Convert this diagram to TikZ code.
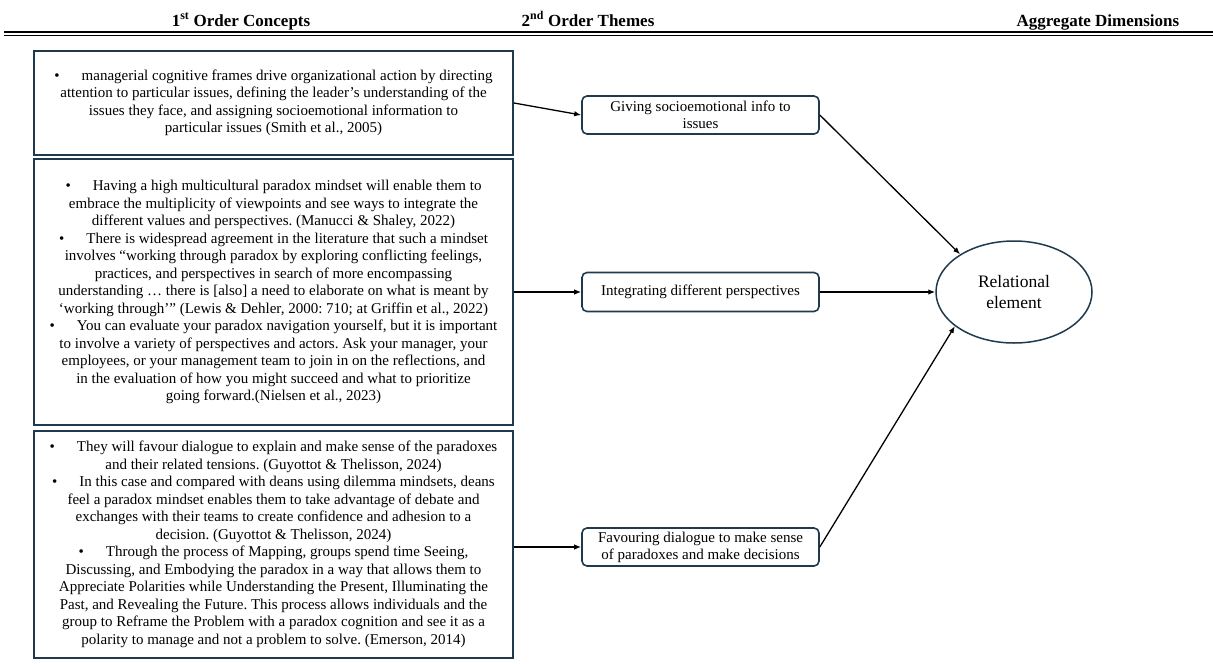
\documentclass[tikz,border=0pt]{standalone}
\usepackage{fontspec}
\setmainfont{Liberation Serif}
\usetikzlibrary{arrows.meta,shapes.geometric}
\definecolor{boxline}{HTML}{1F3A4D}
\newcommand{\bul}{\textbullet\hspace{22pt}}
\frenchspacing

\begin{document}
\begin{tikzpicture}[x=1pt, y=-1pt,
  head/.style={anchor=base, font=\fontsize{17}{19}\selectfont\bfseries},
  concept/.style={draw=boxline, line width=2pt, anchor=north west, minimum width=479pt, inner sep=0pt, align=center, font=\fontsize{15}{17.5}\selectfont},
  theme/.style={draw=boxline, line width=1.6pt, rounded corners=5pt, minimum width=237pt, minimum height=38pt, inner sep=2pt, align=center, font=\fontsize{15}{17}\selectfont},
  link/.style={-{Latex[length=7pt,width=5.5pt]}, line width=1.3pt}]
\useasboundingbox (0,0) rectangle (1213,664);
% heads
\node[head] (head1) at (241,26) {1\textsuperscript{st} Order Concepts};
\node[head] (head2) at (588,26) {2\textsuperscript{nd} Order Themes};
\node[head] (head3) at (1098,26) {Aggregate Dimensions};
\draw[line width=1.6pt] (4,32) -- (1213,32);
\draw[line width=0.6pt] (4,35.2) -- (1213,35.2);
% 1st order concepts
\node[concept, minimum height=104pt] (con1) at (33,50) {\bul managerial cognitive frames drive organizational action by directing\\
attention to particular issues, defining the leader’s understanding of the\\
issues they face, and assigning socioemotional information to\\
particular issues (Smith et al., 2005)};
\node[concept, minimum height=266pt] (con2) at (33,158) {\bul Having a high multicultural paradox mindset will enable them to\\
embrace the multiplicity of viewpoints and see ways to integrate the\\
different values and perspectives. (Manucci \& Shaley, 2022)\\
\bul There is widespread agreement in the literature that such a mindset\\
involves “working through paradox by exploring conflicting feelings,\\
practices, and perspectives in search of more encompassing\\
understanding … there is [also] a need to elaborate on what is meant by\\
‘working through’” (Lewis \& Dehler, 2000: 710; at Griffin et al., 2022)\\
\bul You can evaluate your paradox navigation yourself, but it is important\\
to involve a variety of perspectives and actors. Ask your manager, your\\
employees, or your management team to join in on the reflections, and\\
in the evaluation of how you might succeed and what to prioritize\\
going forward.(Nielsen et al., 2023)};
\node[concept, minimum height=227pt] (con3) at (33,430) {\bul They will favour dialogue to explain and make sense of the paradoxes\\
and their related tensions. (Guyottot \& Thelisson, 2024)\\
\bul In this case and compared with deans using dilemma mindsets, deans\\
feel a paradox mindset enables them to take advantage of debate and\\
exchanges with their teams to create confidence and adhesion to a\\
decision. (Guyottot \& Thelisson, 2024)\\
\bul Through the process of Mapping, groups spend time Seeing,\\
Discussing, and Embodying the paradox in a way that allows them to\\
Appreciate Polarities while Understanding the Present, Illuminating the\\
Past, and Revealing the Future. This process allows individuals and the\\
group to Reframe the Problem with a paradox cognition and see it as a\\
polarity to manage and not a problem to solve. (Emerson, 2014)};
% 2nd order themes
\node[theme] (giving) at (700.5,115) {Giving socioemotional info to\\issues};
\node[theme, minimum height=39pt] (integ) at (700.5,292) {Integrating different perspectives};
\node[theme] (favour) at (700.5,547) {Favouring dialogue to make sense\\of paradoxes and make decisions};
% aggregate dimension
\node[draw=boxline, line width=1.5pt, ellipse, minimum width=156pt, minimum height=102pt, inner sep=0pt, align=center, font=\fontsize{17.5}{20.5}\selectfont] (rel) at (1014,292) {Relational\\element};
% links
\draw[link] (con1.east) -- (giving.west);
\draw[link] (con2.east |- integ.west) -- (integ.west);
\draw[link] (con3.east |- favour.west) -- (favour.west);
\draw[link] (giving.east) -- (rel.145);
\draw[link] (integ.east) -- (rel.west);
\draw[link] (favour.east) -- (rel.210);
\end{tikzpicture}
\end{document}
